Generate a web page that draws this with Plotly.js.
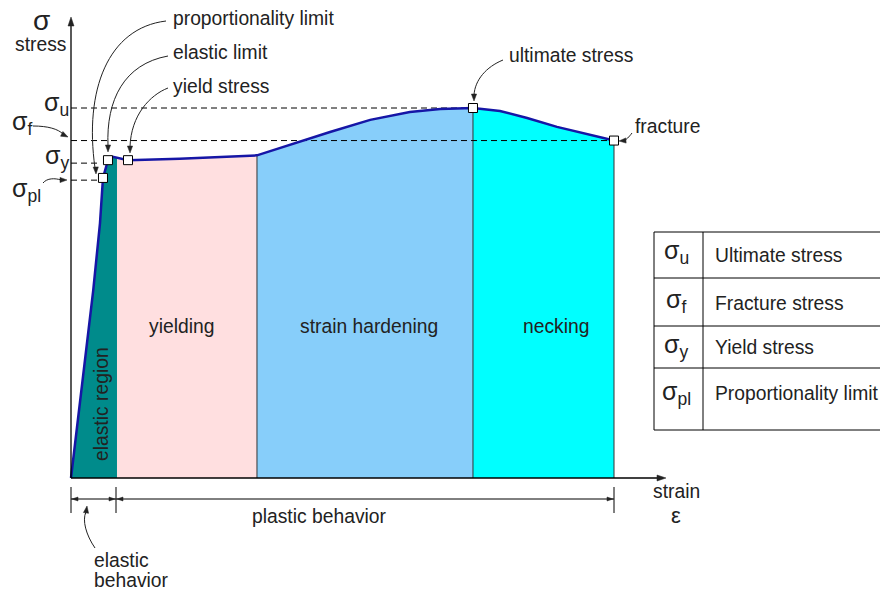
<!DOCTYPE html>
<html><head><meta charset="utf-8">
<script src="https://cdn.plot.ly/plotly-3.0.1.min.js"></script>
<style>html,body{margin:0;padding:0;background:#fff}#chart{width:880px;height:591px}</style>
</head><body><div id="chart"></div>
<script>
// ---- data (strain in arbitrary units, fracture = 100; stress in % of ultimate) ----
const curveStrain = [0, 2.27, 4.1, 5.34, 5.89, 6.81, 7.73, 10.5, 20.0, 34.25, 38.5, 42.2, 47.7, 55.1, 62.4, 68.0, 74.03, 79.0, 84.0, 89.5, 95.6, 100];
const curveStress = [0, 28.4, 50.8, 68.9, 81.1, 85.9, 86.8, 85.9, 86.3, 87.2, 89.2, 91.1, 93.5, 96.8, 98.9, 99.7, 100, 99.2, 97.3, 94.9, 92.7, 91.2];

const keyNames  = ['proportionality limit', 'elastic limit', 'yield stress', 'ultimate stress', 'fracture'];
const keyStrain = [5.89, 6.81, 10.5, 74.03, 100];
const keyStress = [81.1, 85.9, 85.9, 100, 91.2];

const regionNames  = ['elastic region', 'yielding', 'strain hardening', 'necking'];
const regionBounds = [0, 8.47, 34.25, 74.03, 100];
const regionColors = ['#008b8b', '#ffdfe0', '#87cefa', '#00ffff'];

const levelNames  = ['σ<sub>u</sub>', 'σ<sub>f</sub>', 'σ<sub>y</sub>', 'σ<sub>pl</sub>'];
const levelStress = [100, 91.2, 85.1, 80.5];
const levelEnd    = [74.03, 100, 4.9, 5.5];

const tableSymbols = ['σ<sub>u</sub>', 'σ<sub>f</sub>', 'σ<sub>y</sub>', 'σ<sub>pl</sub>'];
const tableLabels  = ['Ultimate stress', 'Fracture stress', 'Yield stress', 'Proportionality limit'];

// ---- geometry helpers ----
const W = 880, H = 591;
const X0 = 71, XS = 5.43, Y0 = 478, YS = 3.7;   // origin pixel & px per unit
const FONT = 'Liberation Sans, Arial, Helvetica, sans-serif';
const TXT = '#222';
const FS = 19.3;
const px = x => x / W, py = y => 1 - y / H;

function interp(x) {
  for (let i = 0; i < curveStrain.length - 1; i++) {
    const a = curveStrain[i], b = curveStrain[i + 1];
    if (x >= a && x <= b) return curveStress[i] + (curveStress[i + 1] - curveStress[i]) * (x - a) / (b - a);
  }
  return curveStress[curveStress.length - 1];
}

const traces = [];
for (let r = 0; r < regionNames.length; r++) {
  const a = regionBounds[r], b = regionBounds[r + 1];
  const xs = [a, a], ys = [0, interp(a)];
  curveStrain.forEach((s, i) => { if (s > a && s < b) { xs.push(s); ys.push(curveStress[i]); } });
  xs.push(b, b); ys.push(interp(b), 0);
  traces.push({x: xs, y: ys, type: 'scatter', mode: 'lines', fill: 'toself', fillcolor: regionColors[r],
    line: {width: 0, color: regionColors[r]}, hoverinfo: 'skip', showlegend: false});
}
for (let r = 2; r < regionBounds.length; r++) {
  const b = regionBounds[r];
  traces.push({x: [b, b], y: [0, interp(b)], type: 'scatter', mode: 'lines',
    line: {width: 1, color: '#333'}, hoverinfo: 'skip', showlegend: false});
}
for (let i = 0; i < levelStress.length; i++) {
  traces.push({x: [0, levelEnd[i]], y: [levelStress[i], levelStress[i]], type: 'scatter', mode: 'lines',
    line: {width: 1, color: '#000', dash: '6px,4px'}, hoverinfo: 'skip', showlegend: false});
}
traces.push({x: curveStrain, y: curveStress, type: 'scatter', mode: 'lines',
  line: {width: 2.5, color: '#1616a6'}, hoverinfo: 'skip', showlegend: false});
traces.push({x: keyStrain, y: keyStress, text: keyNames, type: 'scatter', mode: 'markers',
  marker: {symbol: 'square', size: 9, color: '#fff', line: {width: 1, color: '#000'}}, hoverinfo: 'text', showlegend: false});

const shapes = [];
const ann = [];
const pline = (x1, y1, x2, y2, w) => shapes.push({type: 'line', xref: 'paper', yref: 'paper', x0: px(x1), y0: py(y1), x1: px(x2), y1: py(y2), line: {color: '#000', width: w || 1}});
function curve(pts) {
  const p = pts.map((v, i) => i % 2 === 0 ? px(v) : py(v));
  shapes.push({type: 'path', xref: 'paper', yref: 'paper', path: `M ${p[0]} ${p[1]} C ${p[2]} ${p[3]} ${p[4]} ${p[5]} ${p[6]} ${p[7]}`, line: {color: '#222', width: 1}});
}
function head(tx, ty, dx, dy, len, hw) {
  len = len || 7; hw = hw || 2.6;
  const n = Math.hypot(dx, dy); const ux = -dx / n, uy = -dy / n;
  const bx = tx - ux * len, by = ty - uy * len;
  const p1 = [bx - uy * hw, by + ux * hw], p2 = [bx + uy * hw, by - ux * hw];
  shapes.push({type: 'path', xref: 'paper', yref: 'paper',
    path: `M ${px(tx)} ${py(ty)} L ${px(p1[0])} ${py(p1[1])} L ${px(p2[0])} ${py(p2[1])} Z`,
    fillcolor: '#222', line: {color: '#222', width: 0.5}});
}
function text(t, x, y, opts) {
  ann.push(Object.assign({xref: 'paper', yref: 'paper', x: px(x), y: py(y), text: t, showarrow: false,
    xanchor: 'left', yanchor: 'middle', font: {family: FONT, size: FS, color: TXT}}, opts || {}));
}
const big = s => ({family: FONT, size: s, color: TXT});

// axes
shapes.push({type: 'line', xref: 'x', yref: 'y', x0: 0, y0: 0, x1: (660 - X0) / XS, y1: 0, line: {color: '#000', width: 1.3}});
shapes.push({type: 'line', xref: 'x', yref: 'y', x0: 0, y0: 0, x1: 0, y1: (Y0 - 24) / YS, line: {color: '#000', width: 1.3}});
head(71, 17, 0, 10, 9, 3);
head(666, 478, -10, 0, 9, 3);

// dimension lines
pline(71, 499, 614, 499);
pline(71, 487, 71, 513); pline(116, 487, 116, 513); pline(614, 487, 614, 513);
head(72, 499, 9, 0, 6, 2); head(115, 499, -9, 0, 6, 2); head(117, 499, 9, 0, 6, 2); head(613, 499, -9, 0, 6, 2);

// curved leader arrows
curve([166, 21, 108, 28, 84, 90, 95, 168]);   head(96, 174, -0.3, -8);
curve([168, 56, 124, 64, 106, 100, 108, 146]); head(108, 152, 0, -8);
curve([168, 88, 150, 95, 131, 115, 130, 147]); head(130, 153, 0, -8);
curve([503, 60, 486, 67, 475, 80, 474, 95]);   head(474, 101, 0, -8);
curve([632, 133, 629, 137, 626, 140, 624, 140.5]); head(619, 141, 7, -0.5);
curve([33, 126, 48, 126, 58, 129, 63, 134]);   head(68, 137, -6, -3);
curve([43, 183, 47, 178, 55, 178, 61, 180]);   head(67, 180, -7, 0);
curve([95, 548, 86, 535, 82, 520, 86, 512]);   head(87, 506, -1, 7);

// text labels
text('proportionality limit', 171, 19);
text('elastic limit', 171, 53);
text('yield stress', 171, 86);
text('ultimate stress', 507, 55);
text('fracture', 633, 127);
text('σ', 41, 21, {xanchor: 'center', font: big(28)});
text('stress', 40, 44, {xanchor: 'center'});
text(levelNames[0], 42, 104, {font: big(25)});
text(levelNames[1], 10, 123, {font: big(25)});
text(levelNames[2], 43, 157, {font: big(25)});
text(levelNames[3], 10, 190, {font: big(25)});
text('strain', 676, 491, {xanchor: 'center'});
text('ε', 676, 515, {xanchor: 'center', font: big(22)});
text('plastic behavior', 319, 516, {xanchor: 'center'});
text('elastic', 92, 560);
text('behavior', 92, 580);
text(regionNames[1], 181, 326, {xanchor: 'center'});
text(regionNames[2], 369, 326, {xanchor: 'center'});
text(regionNames[3], 556, 326, {xanchor: 'center'});
text(regionNames[0], 101, 404, {xanchor: 'center', textangle: -90});

// table
pline(654, 232, 885, 232); pline(654, 430, 885, 430);
pline(654, 232, 654, 430); pline(703, 232, 703, 430);
pline(654, 278, 885, 278); pline(654, 326, 885, 326); pline(654, 368, 885, 368);
const symY = [252, 301, 346, 393], labY = [255, 303, 347, 393];
for (let i = 0; i < tableLabels.length; i++) {
  text(tableSymbols[i], 676, symY[i], {xanchor: 'center', font: big(25)});
  text(tableLabels[i], 713, labY[i]);
}

const layout = {
  width: W, height: H, margin: {l: 0, r: 0, t: 0, b: 0},
  paper_bgcolor: '#fff', plot_bgcolor: '#fff', showlegend: false,
  xaxis: {range: [-X0 / XS, (W - X0) / XS], visible: false, fixedrange: true},
  yaxis: {range: [-(H - Y0) / YS, Y0 / YS], visible: false, fixedrange: true},
  shapes: shapes, annotations: ann
};
Plotly.newPlot('chart', traces, layout, {staticPlot: true, displayModeBar: false});
</script></body></html>
